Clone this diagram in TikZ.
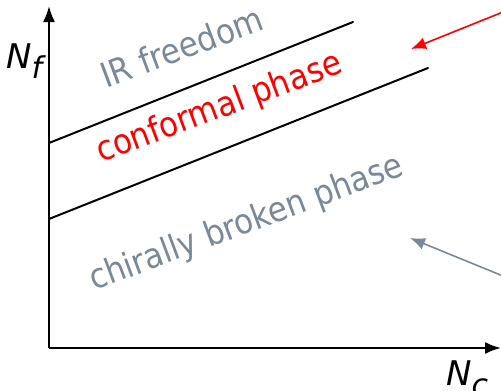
\documentclass[tikz,border=0pt]{standalone}
\usepackage{fontspec}
\setmainfont{DejaVu Sans}
\newfontfamily\phasefont{DejaVu Sans}[FakeStretch=0.9]
\usetikzlibrary{arrows.meta}
\definecolor{slate}{RGB}{122,137,152}
\definecolor{pured}{RGB}{255,0,0}
\tikzset{
  axis/.style={line width=2pt,-{Latex[length=16pt,width=12pt]}},
  border/.style={line width=2pt,line cap=round},
  pointer/.style={line width=1.6pt,-{Latex[length=15pt,width=12pt]}},
  phase/.style={font=\phasefont\fontsize{34.5}{40}\selectfont,rotate=20.5,anchor=base west,inner sep=0pt},
  axlabel/.style={font=\fontsize{34}{40}\selectfont\itshape,anchor=base west,inner sep=0pt}
}
\begin{document}
\begin{tikzpicture}[x=1pt,y=-1pt]
\useasboundingbox (0,0) rectangle (501,391);
\coordinate (O) at (49,348);
\coordinate (ytop) at (49,6);
\coordinate (xend) at (501,348);
\draw[axis] (O) -- (ytop);
\draw[axis] (O) -- (xend);
\coordinate (a1) at (49,143);
\coordinate (a2) at (353,22);
\coordinate (b1) at (49,219);
\coordinate (b2) at (428,68);
\draw[border] (a1) -- (a2);
\draw[border] (b1) -- (b2);
\node[phase,text=slate] (ir) at (106,89) {IR freedom};
\node[phase,text=pured] (conf) at (101,163) {conformal phase};
\node[phase,text=slate] (chi) at (94,291) {chirally broken phase};
\node[axlabel] (nf) at (6,68) {N\raisebox{-10pt}{\fontsize{30}{32}\selectfont f}};
\node[axlabel] (nc) at (446,385) {N\raisebox{-10pt}{\fontsize{30}{32}\selectfont c}};
\coordinate (r1) at (503,12);
\coordinate (r2) at (411,49);
\coordinate (g1) at (503,276);
\coordinate (g2) at (410,238);
\draw[pointer,pured] (r1) -- (r2);
\draw[pointer,slate] (g1) -- (g2);
\end{tikzpicture}
\end{document}
